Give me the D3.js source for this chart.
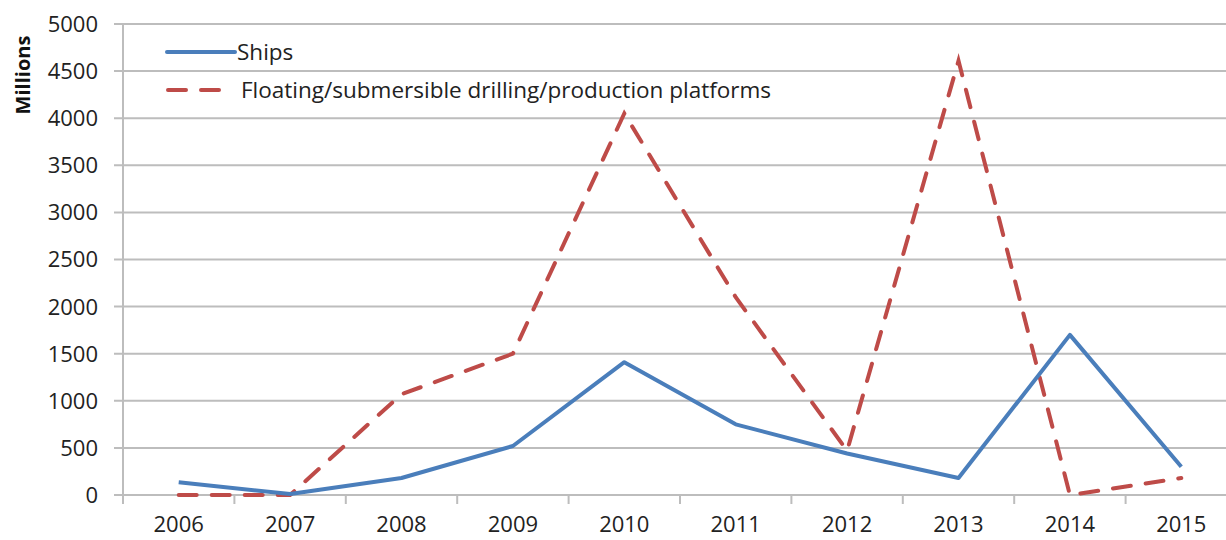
<!DOCTYPE html>
<html>
<head>
<meta charset="utf-8">
<script src="https://cdn.jsdelivr.net/npm/d3@7"></script>
<style>
body { margin: 0; background: #fff; }
svg { display: block; font-family: "Open Sans", "Liberation Sans", sans-serif; }
</style>
</head>
<body>
<script>
var years = ["2006", "2007", "2008", "2009", "2010", "2011", "2012", "2013", "2014", "2015"];
var ships = [135, 10, 180, 520, 1410, 750, 440, 180, 1700, 300];
var platforms = [0, 0, 1070, 1500, 4050, 2100, 470, 4610, 0, 180];
var yTicks = [0, 500, 1000, 1500, 2000, 2500, 3000, 3500, 4000, 4500, 5000];
var seriesNames = ["Ships", "Floating/submersible drilling/production platforms"];

var W = 1226, H = 540;
var plotLeft = 123, plotTop = 24, plotBottom = 495, plotRight = 1237; // plot runs past the right edge

var svg = d3.select("body").append("svg").attr("width", W).attr("height", H);

var x = d3.scaleBand().domain(years).range([plotLeft, plotRight]);
var y = d3.scaleLinear().domain([0, 5000]).range([plotBottom, plotTop]);

// gridlines
svg.append("g").selectAll("line").data(yTicks).enter().append("line")
  .attr("x1", plotLeft - 9).attr("x2", W)
  .attr("y1", function (d) { return y(d); }).attr("y2", function (d) { return y(d); })
  .attr("stroke", "#bdbdbd").attr("stroke-width", 2);

// y axis line
svg.append("line").attr("x1", plotLeft).attr("x2", plotLeft).attr("y1", plotTop).attr("y2", plotBottom + 9)
  .attr("stroke", "#bdbdbd").attr("stroke-width", 2);

// x tick marks between categories
svg.append("g").selectAll("line").data(years.slice(1)).enter().append("line")
  .attr("x1", function (d) { return x(d); }).attr("x2", function (d) { return x(d); })
  .attr("y1", plotBottom).attr("y2", plotBottom + 9)
  .attr("stroke", "#bdbdbd").attr("stroke-width", 2);

// y tick labels
svg.append("g").selectAll("text").data(yTicks).enter().append("text")
  .attr("x", 98).attr("y", function (d) { return y(d); }).attr("dy", "0.36em")
  .attr("text-anchor", "end").attr("font-size", 22).attr("fill", "#222")
  .text(function (d) { return d; });

// x labels
svg.append("g").selectAll("text").data(years).enter().append("text")
  .attr("x", function (d) { return x(d) + x.bandwidth() / 2; }).attr("y", 532)
  .attr("text-anchor", "middle").attr("font-size", 22).attr("fill", "#222")
  .text(function (d) { return d; });

// axis title
svg.append("text").attr("transform", "translate(30,75) rotate(-90)")
  .attr("text-anchor", "middle").attr("font-size", 20).attr("font-weight", "bold")
  .attr("fill", "#111").text("Millions");

var line = d3.line()
  .x(function (d, i) { return x(years[i]) + x.bandwidth() / 2; })
  .y(function (d) { return y(d); });

svg.append("path").datum(platforms).attr("d", line)
  .attr("fill", "none").attr("stroke", "#be4b48").attr("stroke-width", 4)
  .attr("stroke-dasharray", "18,15").attr("stroke-linecap", "round");

svg.append("path").datum(ships).attr("d", line)
  .attr("fill", "none").attr("stroke", "#4a7ebb").attr("stroke-width", 4)
  .attr("stroke-linejoin", "round");

// legend
svg.append("line").attr("x1", 167).attr("x2", 235).attr("y1", 52).attr("y2", 52)
  .attr("stroke", "#4a7ebb").attr("stroke-width", 4).attr("stroke-linecap", "round");
svg.append("text").attr("x", 237).attr("y", 52).attr("dy", "0.36em")
  .attr("font-size", 22.5).attr("fill", "#222").text(seriesNames[0]);
svg.append("line").attr("x1", 168).attr("x2", 220).attr("y1", 90).attr("y2", 90)
  .attr("stroke", "#be4b48").attr("stroke-width", 4).attr("stroke-linecap", "round")
  .attr("stroke-dasharray", "18,15");
svg.append("text").attr("x", 241).attr("y", 90).attr("dy", "0.36em")
  .attr("font-size", 22.5).attr("fill", "#222").text(seriesNames[1]);
</script>
</body>
</html>
